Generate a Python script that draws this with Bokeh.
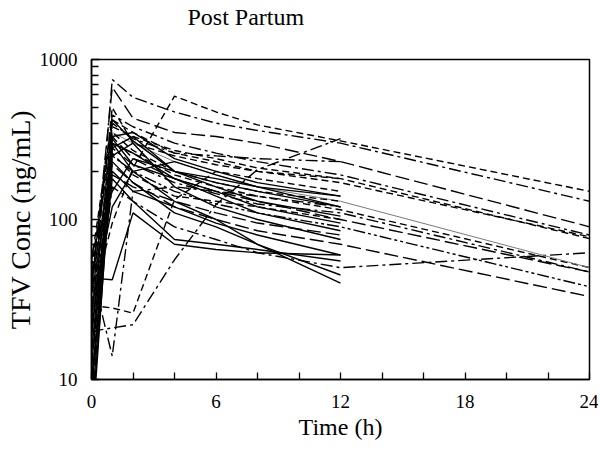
from bokeh.plotting import figure
from bokeh.models import FixedTicker, Range1d, LinearAxis
from bokeh.embed import file_html
from bokeh.resources import INLINE

# sampling times (h)
times = [0, 1, 2, 4, 6, 8, 12, 24]

x_ticks = [0, 6, 12, 18, 24]
x_minor = [2, 4, 8, 10, 14, 16, 20, 22]
y_ticks = [10, 100, 1000]
y_minor = [20, 30, 40, 50, 60, 70, 80, 90, 200, 300, 400, 500, 600, 700, 800, 900]

# individual TFV concentration profiles (ng/mL)
s01 = [22, 750, 580, 470, 400, 360, 300, 130]
s02 = [30, 95, 210, 590, 470, 390, 310, 150]
s03 = [35, 670, 430, 350, 330, 300, 230, 90]
s04 = [40, 450, 380, 300, 260, 230, 190, 80]
s05 = [50, 380, 330, 270, 240, 210, 180, 76]
s06 = [15, 160, 130, 90, 75, 62, 50, 62]
s07 = [30, 300, 260, 190, 160, 140, 115, 50]
s08 = [25, 280, 220, 170, 145, 125, 110, 47]
s09 = [45, 330, 240, 180, 150, 130, 100, 47]
s10 = [20, 250, 200, 150, 125, 110, 90, 38]
s11 = [12, 220, 170, 120, 100, 85, 70, 33]
s12 = [30, 350, 300, 230, 190, 160, 130, 50]
s13 = [55, 420, 350, 260, 230, 200, 170, 78]
s14 = [8, 330, 350, 240, 200, 170, 140]
s15 = [15, 280, 330, 200, 170, 150, 120]
s16 = [5, 250, 300, 160, 120, 100, 75]
s17 = [20, 200, 150, 120, 95, 80, 60]
s18 = [10, 180, 130, 75, 70, 65, 55]
s19 = [6, 300, 200, 130, 100, 70, 40]
s20 = [40, 230, 170, 110, 90, 70, 45]
s21 = [60, 150, 240, 200, 180, 160, 140]
s22 = [30, 500, 300, 250, 220, 200, 180]
s23 = [7, 400, 320, 260, 250, 240, 230]
s24 = [25, 350, 270, 200, 170, 150, 130]
s25 = [12, 320, 220, 180, 150, 120, 95]
s26 = [48, 14, 150, 160, 150, 140, 120]
s27 = [20, 21, 22, 56, 124, 205, 320]
s28 = [18, 420, 310, 200, 160, 130, 105]
s29 = [9, 260, 190, 140, 130, 120, 100]
s30 = [28, 120, 200, 230, 190, 160, 120]
s31 = [43, 42, 110, 70, 65, 62, 60]
s32 = [35, 190, 160, 130, 110, 95, 80]
s33 = [4, 300, 260, 180, 140, 110, 85]
s34 = [29, 28, 26, 133, 200, 180, 150]

subjects = [s01, s02, s03, s04, s05, s06, s07, s08, s09, s10, s11, s12,
            s13, s14, s15, s16, s17, s18, s19, s20, s21, s22, s23, s24,
            s25, s26, s27, s28, s29, s30, s31, s32, s33, s34]

SOLID = "solid"
DASH = "7 4"
LDASH = "14 5"
DDOT = "12 4 3 4"
DDDOT = "12 3 3 3 3 3"
styles = [DDOT, DASH, LDASH, DDOT, DASH, DDOT, DASH, DDOT, LDASH, DDDOT, LDASH, SOLID,
          DASH, SOLID, SOLID, SOLID, SOLID, SOLID, SOLID, SOLID, SOLID, DASH, DDOT, DASH,
          SOLID, DDOT, DDOT, SOLID, DASH, SOLID, SOLID, LDASH, SOLID, DASH]

SERIF = "Liberation Serif"
W, H = 598, 447

p = figure(width=W, height=H, y_axis_type="log",
           x_range=Range1d(0, 24), y_range=Range1d(10, 1000),
           output_backend="svg", toolbar_location=None,
           min_border_left=91, min_border_right=9,
           min_border_top=59, min_border_bottom=68)

for i, (vals, dash) in enumerate(zip(subjects, styles)):
    t = times[:len(vals)]
    color = "#7a7a7a" if i == 11 else "black"
    width = 1.0 if i == 11 else 1.4
    p.line(t, vals, line_color=color, line_width=width, line_dash=dash)

xax = p.below[0]
yax = p.left[0]

# invisible spacer above the frame so the title sits near the top edge
spacer = LinearAxis(ticker=FixedTicker(ticks=[12], minor_ticks=[]),
                    major_label_overrides={12: ""},
                    axis_line_color=None, major_tick_line_color=None,
                    minor_tick_line_color=None, major_tick_in=0,
                    major_tick_out=28, minor_tick_out=0,
                    major_label_standoff=0, major_label_text_font_size="1px",
                    major_label_text_alpha=0)
p.add_layout(spacer, "above")

p.title.text = "Post Partum"
p.title.text_font = SERIF
p.title.text_font_size = "24px"
p.title.text_font_style = "normal"
p.title.text_color = "black"
p.title.align = "left"
p.title.offset = 96
p.title.vertical_align = "top"
p.title.standoff = 0

p.grid.visible = False
p.outline_line_color = "black"
p.outline_line_width = 1.5
p.outline_line_alpha = 1.0
p.background_fill_color = "white"
p.border_fill_color = "white"

xax.ticker = FixedTicker(ticks=x_ticks, minor_ticks=x_minor)
yax.ticker = FixedTicker(ticks=y_ticks, minor_ticks=y_minor)
yax.major_label_overrides = {10: "10", 100: "100", 1000: "1000"}

for ax in (xax, yax):
    ax.axis_line_color = "black"
    ax.axis_line_width = 1.5
    ax.major_tick_line_color = "black"
    ax.minor_tick_line_color = "black"
    ax.major_tick_line_width = 1.3
    ax.minor_tick_line_width = 1.3
    ax.major_tick_out = 0
    ax.minor_tick_out = 0
    ax.major_label_text_font = SERIF
    ax.major_label_text_font_size = "19px"
    ax.major_label_text_color = "black"
    ax.axis_label_text_font = SERIF
    ax.axis_label_text_font_style = "normal"
    ax.axis_label_text_color = "black"

xax.major_tick_in = 7
xax.minor_tick_in = 7
yax.major_tick_in = 8
yax.minor_tick_in = 7
xax.major_label_standoff = 15
yax.major_label_standoff = 14
xax.axis_label_standoff = 3
yax.axis_label_standoff = 1
xax.axis_label = "Time (h)"
xax.axis_label_text_font_size = "24px"
yax.axis_label = "TFV Conc (ng/mL)"
yax.axis_label_text_font_size = "28px"

open("out.html", "w").write(file_html(p, INLINE))
